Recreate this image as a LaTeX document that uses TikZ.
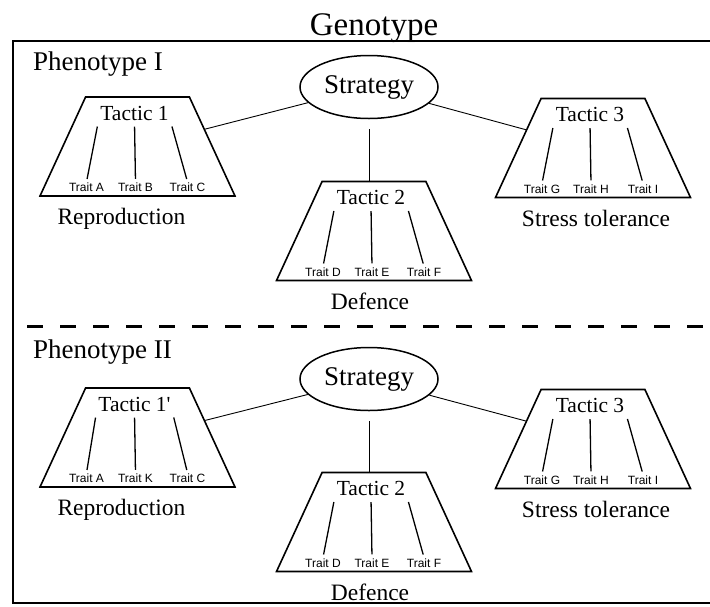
\documentclass[tikz,border=0pt]{standalone}
\usepackage{fontspec}
\setmainfont{Liberation Serif}
\newfontfamily\traitfont{Liberation Sans}
\usetikzlibrary{shapes.geometric}

\tikzset{
  tacbox/.style={trapezium, draw, line width=1.6pt, trapezium left angle=66.3,
    trapezium right angle=66.3, trapezium stretches=true,
    minimum width=195pt, minimum height=99pt, inner sep=2pt},
  tactitle/.style={font=\fontsize{21.5}{24}\selectfont, inner sep=2pt, anchor=base},
  trait/.style={font=\traitfont\fontsize{12}{14}\selectfont, inner sep=1pt, anchor=base},
  traitline/.style={line width=1.3pt, shorten <=4pt, shorten >=3pt},
  caption/.style={font=\fontsize{23.5}{26}\selectfont, anchor=base},
  strat/.style={ellipse, draw, line width=1.5pt, minimum width=138pt,
    minimum height=63pt, inner sep=0pt, font=\fontsize{27}{30}\selectfont},
  pheno/.style={font=\fontsize{27}{30}\selectfont, inner sep=0pt, anchor=base west},
  link/.style={line width=0.9pt},
}

% #1 name, #2 centre, #3 title, #4-#6 traits, #7 caption, #8 caption shift
\newcommand{\tactic}[8]{%
  \node[tacbox] (#1) at (#2) {};
  \node[tactitle] (#1t) at ([xshift=-3pt,yshift=-24pt]#1.north) {#3};
  \node[trait] (#1a) at ([xshift=-51pt,yshift=5pt]#1.south) {#4};
  \node[trait] (#1b) at ([xshift=-2pt,yshift=5pt]#1.south) {#5};
  \node[trait] (#1c) at ([xshift=50pt,yshift=5pt]#1.south) {#6};
  \draw[traitline] (#1t.south west) -- (#1a.north);
  \draw[traitline] (#1t.south) -- (#1b.north);
  \draw[traitline] (#1t.south east) -- (#1c.north);
  \node[caption] (#1cap) at ([xshift=#8,yshift=-28pt]#1.south) {#7};
}

\begin{document}
\begin{tikzpicture}[x=1pt,y=-1pt]
\useasboundingbox (0,0) rectangle (710,606);
\node[font=\fontsize{33}{36}\selectfont, anchor=base] (geno) at (374,35) {Genotype};
\draw[line width=1.8pt] (13,41) rectangle (720,603); % genotype frame
\draw[line width=3pt, dash pattern=on 16pt off 17pt] (27,326) -- (720,326);

% phenotype I
\node[pheno] (ph1) at (33,70) {Phenotype I};
\node[strat] (s1) at (369,87) {Strategy};
\tactic{t1}{137.5,146.5}{Tactic 1}{Trait A}{Trait B}{Trait C}{Reproduction}{-16pt}
\tactic{t2}{374,231}{Tactic 2}{Trait D}{Trait E}{Trait F}{Defence}{-4pt}
\tactic{t3}{593,148}{Tactic 3}{Trait G}{Trait H}{Trait I}{Stress tolerance}{3pt}
\draw[link] (s1) -- (t1);
\draw[link] (s1) -- (t3);
\draw[link, shorten <=10pt] (s1) -- (s1 |- t2.north);

% phenotype II
\node[pheno] (ph2) at (33,358) {Phenotype II};
\node[strat] (s2) at (369,379) {Strategy};
\tactic{u1}{137.5,437.5}{Tactic 1\textquotesingle}{Trait A}{Trait K}{Trait C}{Reproduction}{-16pt}
\tactic{u2}{374,522}{Tactic 2}{Trait D}{Trait E}{Trait F}{Defence}{-4pt}
\tactic{u3}{593,439}{Tactic 3}{Trait G}{Trait H}{Trait I}{Stress tolerance}{3pt}
\draw[link] (s2) -- (u1);
\draw[link] (s2) -- (u3);
\draw[link, shorten <=10pt] (s2) -- (s2 |- u2.north);
\end{tikzpicture}
\end{document}
